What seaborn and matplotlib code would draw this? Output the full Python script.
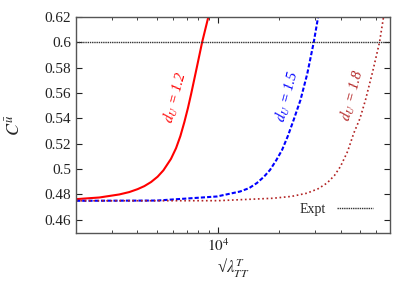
import matplotlib
matplotlib.use("Agg")
import matplotlib.pyplot as plt
import matplotlib.ticker as mticker
import seaborn as sns

# values
lam_12 = [2000, 2605, 3265, 3660, 4020, 4340, 4680, 5040, 5380, 5860, 6210, 6520, 6820, 7100, 7360, 7850, 8340, 8950]
c_12 = [0.4763, 0.4776, 0.4800, 0.4819, 0.4842, 0.4866, 0.4898, 0.4940, 0.4990, 0.5080, 0.5165, 0.5260, 0.5370, 0.5480, 0.5590, 0.5800, 0.6000, 0.6200]

lam_15 = [2000, 5000, 9860, 12800, 14200, 15500, 16800, 18000, 19300, 20600, 22000, 23500, 25400, 27400, 29500, 31000]
c_15 = [0.4750, 0.4752, 0.4784, 0.4823, 0.4850, 0.4890, 0.4940, 0.4994, 0.5070, 0.5150, 0.5260, 0.5388, 0.5546, 0.5750, 0.6000, 0.6200]

lam_18 = [2000, 10000, 18600, 23000, 27300, 31000, 34300, 37300, 39900, 43300, 46400, 49800, 53000, 57500, 62100, 65000]
c_18 = [0.4750, 0.4751, 0.4770, 0.4785, 0.4810, 0.4845, 0.4890, 0.4950, 0.5020, 0.5140, 0.5283, 0.5400, 0.5546, 0.5770, 0.6000, 0.6200]

expt = [0.6]
labels = ["$d_U$ = 1.2", "$d_U$ = 1.5", "$d_U$ = 1.8"]
label_pos = [(6150, 0.557), (21900, 0.557), (45700, 0.5585)]
colors = ["#ff0000", "#0000ff", "#b22222"]

sns.set_style("ticks")
plt.rcParams["font.family"] = ["Liberation Serif", "DejaVu Serif"]
plt.rcParams["mathtext.fontset"] = "stix"

fig = plt.figure(figsize=(4.15, 2.91), dpi=100)
ax = fig.add_axes([0.183, 0.201, 0.757, 0.741])

sns.lineplot(x=lam_12, y=c_12, ax=ax, color=colors[0], linewidth=1.5)
sns.lineplot(x=lam_15, y=c_15, ax=ax, color=colors[1], linewidth=1.5)
sns.lineplot(x=lam_18, y=c_18, ax=ax, color=colors[2], linewidth=1.2)
ax.lines[1].set_dashes((2, 1))
ax.lines[2].set_dashes((1, 1.6))

ax.axhline(expt[0], color="#333333", linewidth=1.0, dashes=(1, 0.6), label="Expt")

ax.set_xscale("log")
ax.set_xlim(2000, 70000)
ax.set_ylim(0.45, 0.62)
ax.set_yticks([0.46, 0.48, 0.5, 0.52, 0.54, 0.56, 0.58, 0.6, 0.62])
ax.yaxis.set_major_formatter(mticker.FuncFormatter(lambda v, p: f"{v:g}"))
ax.xaxis.set_major_locator(mticker.FixedLocator([10000]))
ax.xaxis.set_major_formatter(mticker.FixedFormatter(["$10^4$"]))
ax.xaxis.set_minor_locator(mticker.LogLocator(base=10, subs=range(2, 10)))
ax.xaxis.set_minor_formatter(mticker.NullFormatter())
ax.tick_params(axis="both", which="both", direction="in", top=True, right=True,
               labelsize=11, colors="#222222")
ax.tick_params(which="major", length=4)
ax.tick_params(which="minor", length=2.5)
for s in ax.spines.values():
    s.set_visible(True)
    s.set_color("#555555")
    s.set_linewidth(1.0)

ax.set_xlabel("√" + r"$\lambda^{T}_{TT}$", fontsize=12, labelpad=2)
ax.set_ylabel(r"$C^{\bar{u}}$", fontsize=13, labelpad=14)

for txt, (lx, ly), col in zip(labels, label_pos, colors):
    ax.text(lx, ly, txt, color=col, rotation=75, fontsize=10.5,
            style="italic", ha="center", va="center")

ax.legend(loc="lower right", frameon=False, markerfirst=False, fontsize=10,
          handlelength=2.6, borderaxespad=0.8)

fig.savefig("out.png", dpi=100)
